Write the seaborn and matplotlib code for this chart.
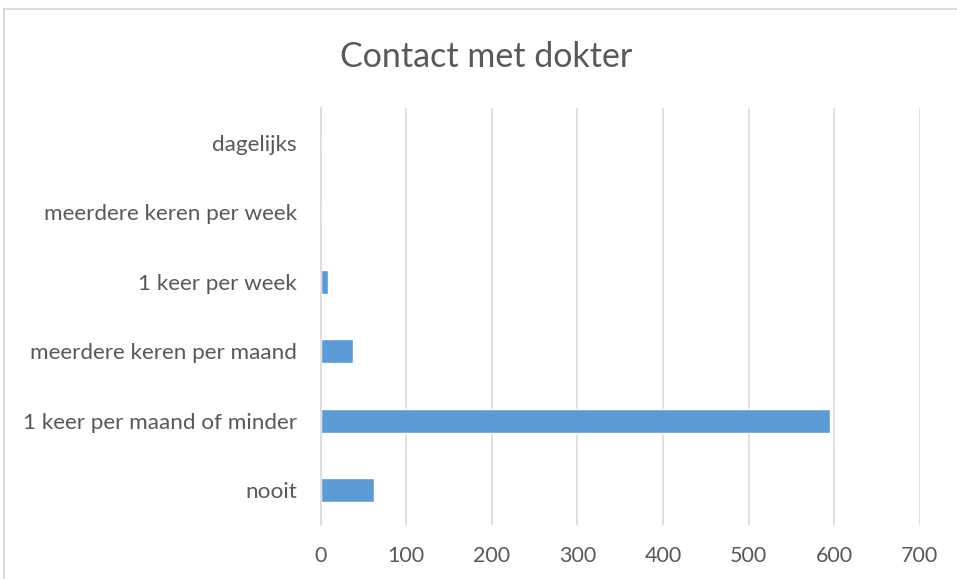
import matplotlib
matplotlib.use("Agg")
import matplotlib.pyplot as plt
import seaborn as sns
import pandas as pd
from matplotlib.lines import Line2D

categories = ["dagelijks", "meerdere keren per week", "1 keer per week",
              "meerdere keren per maand", "1 keer per maand of minder", "nooit"]
values = [0, 0, 8, 38, 595, 62]
xticks = [0, 100, 200, 300, 400, 500, 600, 700]
title = "Contact met dokter"

df = pd.DataFrame({"categorie": categories, "aantal": values})

sns.set_theme(style="white")
plt.rcParams["font.family"] = ["Lato", "DejaVu Sans"]

W, H = 957, 579
fig = plt.figure(figsize=(W / 100, H / 100), dpi=100)
left, right, top, bottom = 320.7, 919.7, 108.3, 524.8
ax = fig.add_axes([left / W, 1 - bottom / H, (right - left) / W, (bottom - top) / H])

sns.barplot(data=df, y="categorie", x="aantal", order=categories, orient="h",
            color="#5B9BD5", saturation=1, width=0.35, ax=ax)

ax.set_xlim(0, 700)
ax.set_xticks(xticks)
ax.set_xticklabels([str(t) for t in xticks])
ax.xaxis.grid(True, color="#D9D9D9", linewidth=1.2)
ax.set_axisbelow(True)
for s in ["top", "right", "bottom"]:
    ax.spines[s].set_visible(False)
ax.spines["left"].set_color("#D9D9D9")
ax.spines["left"].set_linewidth(1.2)
ax.set_xlabel("")
ax.set_ylabel("")
ax.tick_params(axis="x", length=0, pad=15, labelsize=15.5, labelcolor="#595959")
ax.tick_params(axis="y", length=0, pad=17, labelsize=16.2, labelcolor="#595959")

fig.text(486 / W, 1 - 57 / H, title, ha="center", va="center",
         fontsize=24.5, color="#595959")

# chart area border (top and left)
fig.add_artist(Line2D([4 / W, 4 / W], [0, 1 - 9 / H], transform=fig.transFigure,
                      color="#D9D9D9", linewidth=1.5))
fig.add_artist(Line2D([4 / W, 1], [1 - 9 / H, 1 - 9 / H], transform=fig.transFigure,
                      color="#D9D9D9", linewidth=1.5))

fig.savefig("out.png", dpi=100)
